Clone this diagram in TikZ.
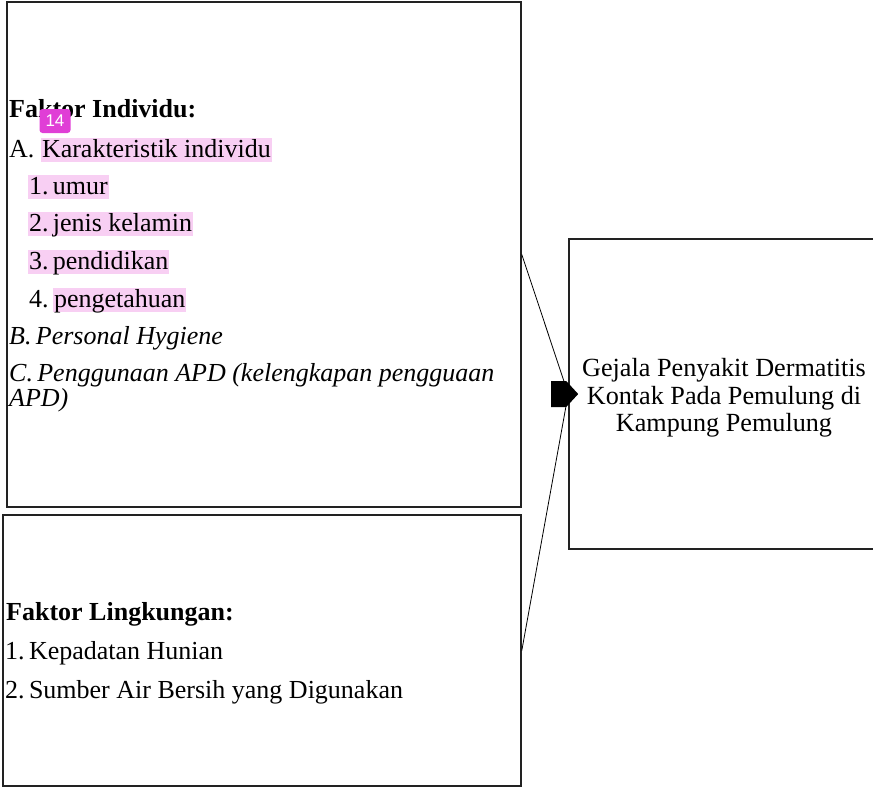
\documentclass[tikz,border=0pt]{standalone}
\usepackage{fontspec}
\setmainfont{Liberation Serif}
\setsansfont{Liberation Sans}
\definecolor{hlpink}{HTML}{F8CFF3}
\definecolor{badge}{HTML}{E03ED6}
\definecolor{boxline}{HTML}{222222}
\tikzset{
  box/.style={draw=boxline, line width=1.6pt, rectangle, inner sep=0pt},
  txt/.style={inner sep=0pt, anchor=base west, font=\fontsize{26}{30}\selectfont},
  hl/.style={txt, fill=hlpink, inner xsep=0.8pt, inner ysep=0pt, text height=19pt, text depth=5pt},
  conn/.style={draw=black, line width=0.8pt},
}
\begin{document}
\begin{tikzpicture}[x=1pt,y=-1pt]
\useasboundingbox (0,0) rectangle (873,793);
% boxes
\node[box, minimum width=514pt, minimum height=505pt] (ind) at (264,254.5) {};
\node[box, minimum width=518pt, minimum height=271pt] (env) at (262,650.5) {};
\node[box, minimum width=312pt, minimum height=310pt] (tgt) at (725,394) {};
% connectors
\draw[conn] (ind.east) -- (tgt.west);
\draw[conn] (env.east) -- (tgt.west);
\fill[black] ([xshift=-17pt,yshift=-13pt]tgt.west) -- ([xshift=-2pt,yshift=-13pt]tgt.west) -- ([xshift=10pt]tgt.west) -- ([xshift=-2pt,yshift=13pt]tgt.west) -- ([xshift=-17pt,yshift=13pt]tgt.west) -- cycle;
% Faktor Individu
\node[txt, font=\fontsize{26}{30}\selectfont\bfseries] (fi) at (9,117) {Faktor Individu:};
\node[txt] (la) at (9,157) {A.};
\node[hl] (lak) at (41,157) {Karakteristik individu};
\node[hl] (l1) at (28,194) {1.\,umur};
\node[hl] (l2) at (28,231) {2.\,jenis kelamin};
\node[hl] (l3) at (28,269) {3.\,pendidikan};
\node[txt] (l4) at (29,307) {4.};
\node[hl] (l4b) at (53,307) {pengetahuan};
\node[txt, font=\fontsize{26}{30}\selectfont\itshape] (lb) at (9,344) {B.\,Personal Hygiene};
\node[txt, font=\fontsize{26}{30}\selectfont\itshape] (lc) at (9,381) {C.\,Penggunaan APD (kelengkapan pengguaan};
\node[txt, font=\fontsize{26}{30}\selectfont\itshape] (lc2) at (9,406) {APD)};
% badge
\node[fill=badge, rounded corners=3pt, minimum width=31pt, minimum height=24pt, inner sep=0pt, text=white, font=\sffamily\fontsize{17}{17}\selectfont] (bdg) at (55,121) {14};
% Faktor Lingkungan
\node[txt, font=\fontsize{26}{30}\selectfont\bfseries] (fl) at (6,620) {Faktor Lingkungan:};
\node[txt] (m1) at (5,659) {1.\,Kepadatan Hunian};
\node[txt] (m2) at (5,698) {2.\,Sumber Air Bersih yang Digunakan};
% target text
\node[align=center, inner sep=0pt, font=\fontsize{26.2}{27.5}\selectfont] (tt) at (724,398) {Gejala Penyakit Dermatitis\\Kontak Pada Pemulung di\\Kampung Pemulung};
\end{tikzpicture}
\end{document}
